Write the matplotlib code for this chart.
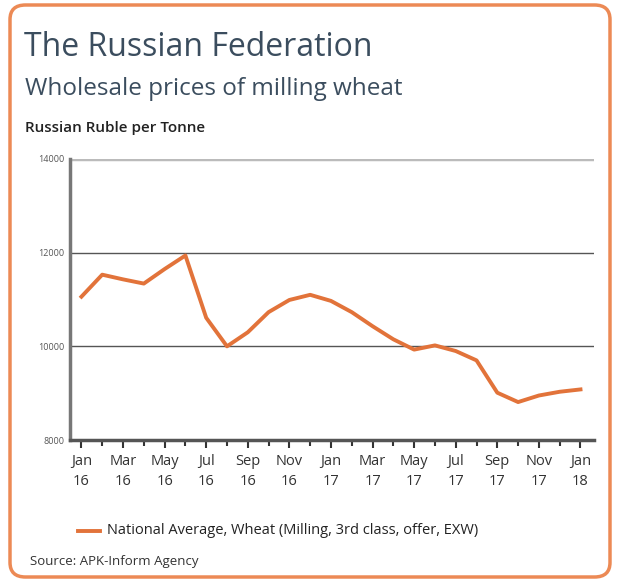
import matplotlib
matplotlib.use('Agg')
import matplotlib.pyplot as plt
from matplotlib.patches import FancyBboxPatch

# Datos (rublos por tonelada, mensual ene-16 a ene-18)
meses = ["Jan\n16", "Feb\n16", "Mar\n16", "Apr\n16", "May\n16", "Jun\n16",
         "Jul\n16", "Aug\n16", "Sep\n16", "Oct\n16", "Nov\n16", "Dec\n16",
         "Jan\n17", "Feb\n17", "Mar\n17", "Apr\n17", "May\n17", "Jun\n17",
         "Jul\n17", "Aug\n17", "Sep\n17", "Oct\n17", "Nov\n17", "Dec\n17",
         "Jan\n18"]
precios = [11060, 11530, 11430, 11340, 11650, 11940,
           10610, 10000, 10300, 10730, 10990, 11100,
           10970, 10730, 10430, 10150, 9930, 10020,
           9900, 9700, 9010, 8810, 8950, 9030,
           9080]
y_ticks = [8000, 10000, 12000, 14000]
leyenda = "National Average, Wheat (Milling, 3rd class, offer, EXW)"

NARANJA = "#e2733a"
BORDE = "#ec8a55"
TITULO = "#3b4d5e"

plt.rcParams['font.family'] = ['Open Sans', 'DejaVu Sans']

fig = plt.figure(figsize=(6.19, 5.81), dpi=100)
W, H = 619, 581

# Marco redondeado naranja
marco = FancyBboxPatch((10 / W, 4 / H), 600 / W, 572 / H,
                       boxstyle="round,pad=0,rounding_size=0.025",
                       transform=fig.transFigure, facecolor="white",
                       edgecolor=BORDE, linewidth=2.5, zorder=-1)
fig.patches.append(marco)

fig.text(24 / W, 1 - 48 / H, "The Russian Federation", fontsize=23,
         color=TITULO, va="center")
fig.text(25 / W, 1 - 89 / H, "Wholesale prices of milling wheat", fontsize=17.5,
         color=TITULO, va="center")
fig.text(25 / W, 1 - 128 / H, "Russian Ruble per Tonne", fontsize=11,
         color="#222222", va="center", fontweight="semibold")

ax = fig.add_axes([70 / W, 1 - 440 / H, 524 / W, 281 / H])
x = list(range(len(precios)))
ax.plot(x, precios, color=NARANJA, linewidth=2.8, zorder=3, solid_joinstyle="round")

ax.set_ylim(8000, 14000)
ax.set_xlim(-0.55, 24.65)
ax.set_yticks(y_ticks)
ax.set_yticklabels([str(v) for v in y_ticks], fontsize=6.5, color="#555555")
ax.tick_params(axis="y", length=0, pad=4)

ax.set_xticks(x[::2])
ax.set_xticklabels(meses[::2], fontsize=10.5, color="#333333", linespacing=1.45)
ax.set_xticks(x[1::2], minor=True)
ax.tick_params(axis="x", which="major", direction="out", length=6, width=1.5,
               color="#333333", pad=4)
ax.tick_params(axis="x", which="minor", direction="out", length=4, width=1.5,
               color="#333333")

# Líneas horizontales
ax.axhline(14000, color="#bbbbbb", linewidth=2.5, zorder=1)
for v in [10000, 12000]:
    ax.axhline(v, color="#555555", linewidth=1, zorder=1)

for lado in ["top", "right"]:
    ax.spines[lado].set_visible(False)
ax.spines["left"].set_color("#777777")
ax.spines["left"].set_linewidth(2.5)
ax.spines["bottom"].set_color("#555555")
ax.spines["bottom"].set_linewidth(2.5)

# Leyenda
fig.lines.append(plt.Line2D([78 / W, 100 / W], [1 - 531 / H, 1 - 531 / H],
                            transform=fig.transFigure, color=NARANJA, linewidth=2.8))
fig.text(107 / W, 1 - 530 / H, leyenda, fontsize=10.5, color="#222222", va="center")
fig.text(30 / W, 1 - 562 / H, "Source: APK-Inform Agency", fontsize=9.5,
         color="#333333", va="center")

fig.savefig("out.png", dpi=100)
